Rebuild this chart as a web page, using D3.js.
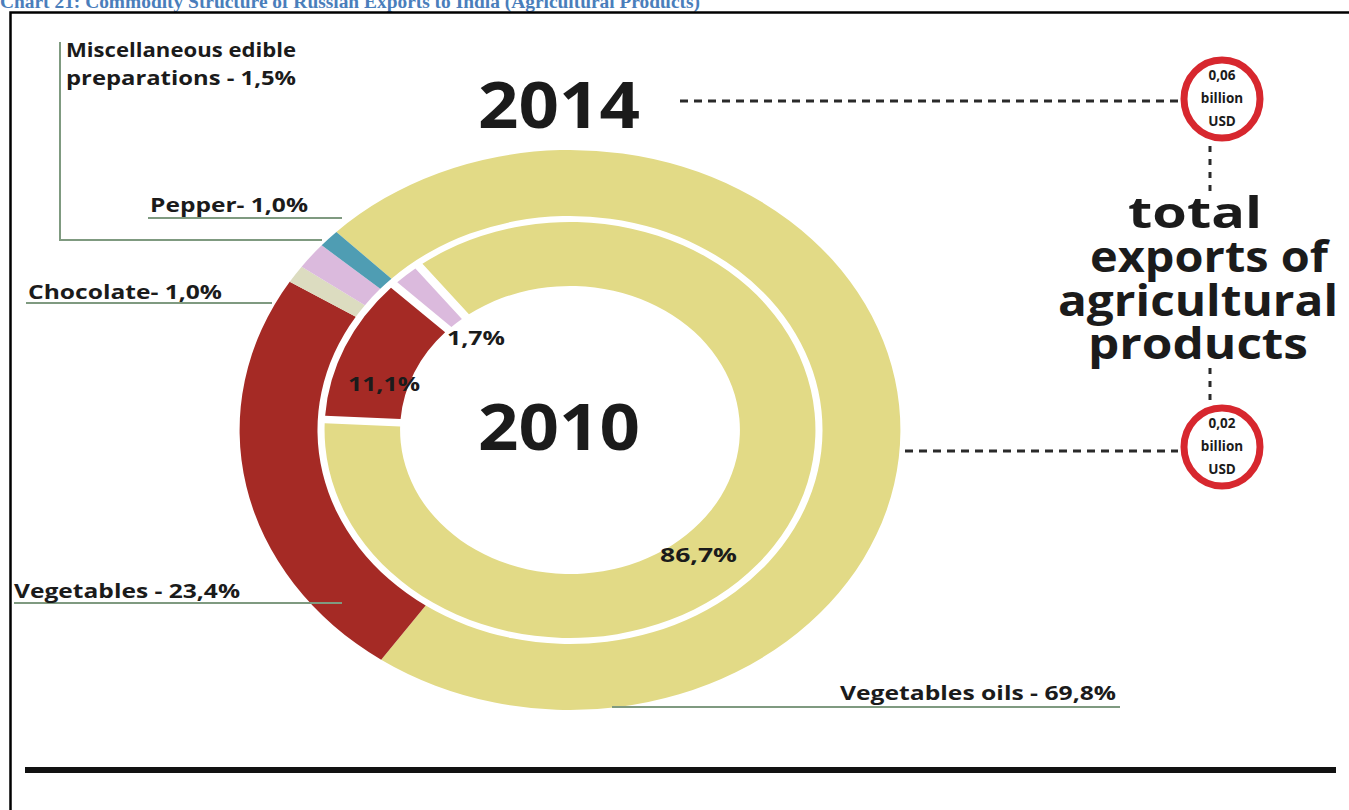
<!DOCTYPE html>
<html>
<head>
<meta charset="utf-8">
<script src="https://cdn.jsdelivr.net/npm/d3@7"></script>
<style>
  html, body { margin: 0; padding: 0; background: #fff; }
  svg { display: block; }
  text { font-family: "Open Sans", "Noto Sans", sans-serif; font-weight: 700; fill: #1b1b1b; }
</style>
</head>
<body>
<script>
// Commodity structure of Russian agricultural exports to India, 2014 (outer ring) vs 2010 (inner ring)
const categories2014 = ["Vegetables oils", "Vegetables", "Chocolate", "Miscellaneous edible preparations", "Pepper"];
const shares2014 = [69.8, 23.4, 1.0, 1.5, 1.0];

const categories2010 = ["Vegetables oils", "Vegetables", "Miscellaneous edible preparations"];
const shares2010 = [86.7, 11.1, 1.7];

const years = ["2014", "2010"];
const totalExports = [0.06, 0.02];          // billion USD
const totalCaption = ["total", "exports of", "agricultural", "products"];
const titleText = "Chart 21: Commodity Structure of Russian Exports to India (Agricultural Products)";

const colour = {
  "Vegetables oils": "#e2da86",
  "Vegetables": "#a52a25",
  "Chocolate": "#dcdcc0",
  "Miscellaneous edible preparations": "#dbbadd",
  "Pepper": "#4f9db3"
};

const W = 1349, H = 810;
const cx = 570, cy = 430, sx = 1.18;   // rings are drawn slightly wider than tall
const fmt = v => d3.format(".1f")(v).replace(".", ",");
const fmt2 = v => d3.format(".2f")(v).replace(".", ",");

const svg = d3.select("body").append("svg").attr("width", W).attr("height", H);
svg.append("rect").attr("width", W).attr("height", H).attr("fill", "#fff");

// text helper: squeeze/stretch a string to a given width
function label(x, y, str, size, width, anchor) {
  const t = svg.append("text").attr("x", x).attr("y", y)
    .attr("font-size", size).text(str);
  if (width) t.attr("textLength", width).attr("lengthAdjust", "spacingAndGlyphs");
  if (anchor) t.attr("text-anchor", anchor);
  return t;
}

// caption above the frame
svg.append("text").attr("x", 0).attr("y", 8)
  .attr("font-size", 18).style("fill", "#4a7ebb").style("font-family", "'Liberation Serif', 'Times New Roman', serif")
  .attr("textLength", 700).attr("lengthAdjust", "spacingAndGlyphs")
  .text(titleText);

// frame
svg.append("path").attr("d", `M10.5,${H} V12.5 H${W}`)
  .attr("fill", "none").attr("stroke", "#000").attr("stroke-width", 2.5);

// rings
const ring = svg.append("g").attr("transform", `translate(${cx},${cy}) scale(${sx},1)`);
const deg = Math.PI / 180;

const outerData = categories2014.map((c, i) => ({ name: c, value: shares2014[i] }));
const innerData = categories2010.map((c, i) => ({ name: c, value: shares2010[i] }));

const outerStart = -45 * deg;
const pieOuter = d3.pie().sort(null).value(d => d.value)
  .startAngle(outerStart).endAngle(outerStart + 2 * Math.PI);
const arcOuter = d3.arc().innerRadius(214).outerRadius(280);

const innerStart = -38 * deg;
const pieInner = d3.pie().sort(null).value(d => d.value)
  .startAngle(innerStart).endAngle(innerStart + 2 * Math.PI).padAngle(0.03);
const arcInner = d3.arc().innerRadius(144).outerRadius(208);

ring.selectAll("path.outer").data(pieOuter(outerData)).join("path")
  .attr("class", "outer").attr("d", arcOuter).attr("fill", d => colour[d.data.name]);
ring.selectAll("path.inner").data(pieInner(innerData)).join("path")
  .attr("class", "inner").attr("d", arcInner).attr("fill", d => colour[d.data.name]);

// leader lines for the outer ring
const leader = "#7f9a80";
const lines = [
  `M60,42 V240 H322`,
  `M148,218 H342`,
  `M26,303 H272`,
  `M14,603 H342`,
  `M612,707 H1120`
];
svg.selectAll("path.leader").data(lines).join("path").attr("class", "leader")
  .attr("d", d => d).attr("fill", "none").attr("stroke", leader).attr("stroke-width", 2);

// outer ring labels
const byName = Object.fromEntries(outerData.map(d => [d.name, d.value]));
label(66, 57, "Miscellaneous edible", 19, 230);
label(66, 85, "preparations - " + fmt(byName["Miscellaneous edible preparations"]) + "%", 19, 230);
label(150, 212, "Pepper- " + fmt(byName["Pepper"]) + "%", 19, 158);
label(28, 299, "Chocolate- " + fmt(byName["Chocolate"]) + "%", 19, 194);
label(14, 598, "Vegetables - " + fmt(byName["Vegetables"]) + "%", 19, 226);
label(840, 700, "Vegetables oils - " + fmt(byName["Vegetables oils"]) + "%", 19, 276);

// inner ring labels
const inner = Object.fromEntries(innerData.map(d => [d.name, d.value]));
label(447, 345, fmt(inner["Miscellaneous edible preparations"]) + "%", 19, 58);
label(348, 391, fmt(inner["Vegetables"]) + "%", 19, 72);
label(660, 562, fmt(inner["Vegetables oils"]) + "%", 19, 77);

// year labels
label(478, 128, years[0], 64, 162);
label(478, 450, years[1], 64, 162);

// dashed connectors to the totals
const dash = svg.append("g").attr("stroke", "#2a2a2a").attr("stroke-width", 3)
  .attr("stroke-dasharray", "8,6").attr("fill", "none");
dash.append("line").attr("x1", 680).attr("x2", 1178).attr("y1", 101).attr("y2", 101);
dash.append("line").attr("x1", 905).attr("x2", 1178).attr("y1", 451).attr("y2", 451);
const vdash = svg.append("g").attr("stroke", "#2a2a2a").attr("stroke-width", 3)
  .attr("stroke-dasharray", "6,7").attr("fill", "none");
vdash.append("line").attr("x1", 1210).attr("x2", 1210).attr("y1", 146).attr("y2", 192);
vdash.append("line").attr("x1", 1210).attr("x2", 1210).attr("y1", 368).attr("y2", 404);

// total export circles
const circleY = [99, 447];
totalExports.forEach((v, i) => {
  const y = circleY[i];
  svg.append("ellipse").attr("cx", 1222).attr("cy", y).attr("rx", 38).attr("ry", 39)
    .attr("fill", "#fff").attr("stroke", "#d7272e").attr("stroke-width", 7);
  label(1222, y - 19, fmt2(v), 13.5, null, "middle");
  label(1222, y + 4, "billion", 13.5, null, "middle");
  label(1222, y + 27, "USD", 13.5, null, "middle");
});

// caption for the totals
const capX = [1128, 1090, 1058, 1088];
const capW = [134, 238, 280, 220];
const capY = [228, 272, 316, 359];
totalCaption.forEach((s, i) => label(capX[i], capY[i], s, 43, capW[i]));

// rule at the bottom
svg.append("line").attr("x1", 25).attr("x2", 1336).attr("y1", 770).attr("y2", 770)
  .attr("stroke", "#111").attr("stroke-width", 6);
</script>
</body>
</html>
